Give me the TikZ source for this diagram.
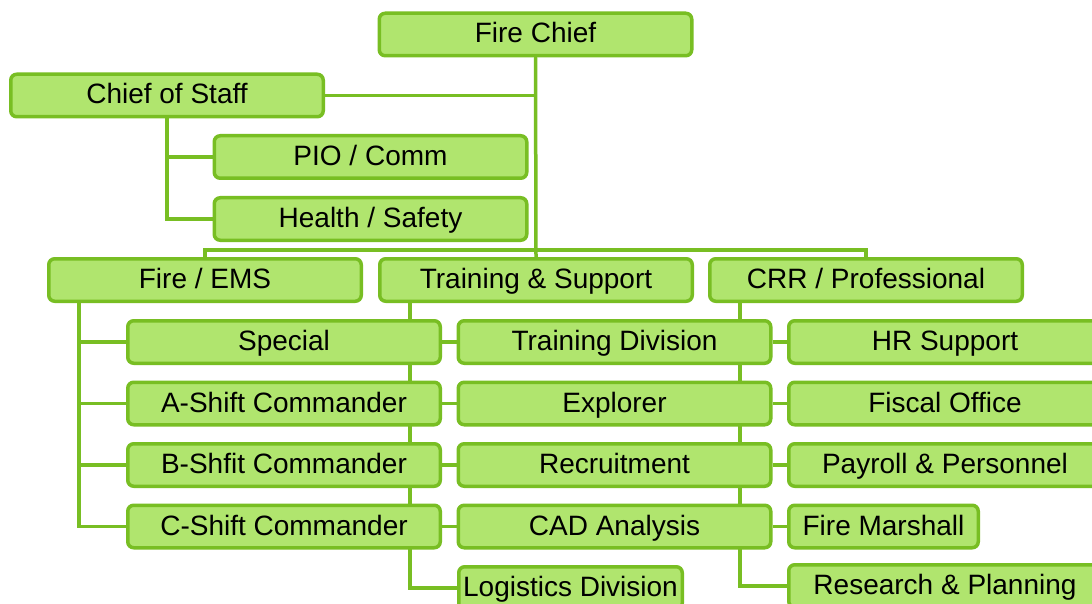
\documentclass[tikz,border=0pt]{standalone}
\usepackage{fontspec}
\setmainfont{Liberation Sans}
\usetikzlibrary{backgrounds}
\definecolor{gline}{RGB}{120,190,35}
\definecolor{gfill}{RGB}{176,229,110}
\begin{document}
\begin{tikzpicture}[x=1pt,y=-1pt,
  box/.style={draw=gline,fill=gfill,line width=3.5pt,rounded corners=6pt,
    minimum width=312.5pt,minimum height=42.5pt,inner sep=0pt,
    text height=20pt,text depth=3pt,
    font=\fontsize{28}{34}\selectfont,anchor=center},
  conn/.style={draw=gline,line width=3.5pt}]
\clip (0,0) rectangle (1092,604);
% top
\node[box] (fc) at (535.5,34.5) {Fire Chief};
\node[box] (cos) at (167,95.5) {Chief of Staff};
\node[box] (pio) at (370.5,157) {PIO / Comm};
\node[box] (hs) at (370.5,219) {Health / Safety};
% divisions
\node[box] (fe) at (205,280) {Fire / EMS};
\node[box] (ts) at (536,280) {Training \& Support};
\node[box] (cr) at (866,280) {CRR / Professional};
% left column
\node[box] (sp) at (284,342) {Special};
\node[box] (as) at (284,403.5) {A-Shift Commander};
\node[box] (bs) at (284,465) {B-Shfit Commander};
\node[box] (cs) at (284,526.5) {C-Shift Commander};
% middle column
\node[box] (td) at (614.5,342) {Training Division};
\node[box] (ex) at (614.5,403.5) {Explorer};
\node[box] (rc) at (614.5,465) {Recruitment};
\node[box] (ca) at (614.5,526.5) {CAD Analysis};
\node[box,minimum width=223.5pt] (lg) at (570.5,588) {Logistics Division};
% right column
\node[box] (hr) at (945,342) {HR Support};
\node[box] (fo) at (945,403.5) {Fiscal Office};
\node[box] (pp) at (945,465) {Payroll \& Personnel};
\node[box,minimum width=189.5pt] (fm) at (883.5,526.5) {Fire Marshall};
\node[box] (rp) at (945,586) {Research \& Planning};
\coordinate (bar) at (536,250);
\begin{pgfonlayer}{background}
\fill[white] (0,0) rectangle (1092,604);
\draw[conn] (fc.south) -- (ts.north);
\draw[conn] (cos.east) -| (fc.south);
\draw[conn] (fe.north) |- (bar) -| (cr.north);
\draw[conn] (cos.south) |- (pio.west);
\draw[conn] (cos.south) |- (hs.west);
% fire/ems column
\draw[conn] ([xshift=32pt]fe.south west) |- (cs.west);
\draw[conn] ([xshift=32pt]fe.south west) |- (sp.west);
\draw[conn] ([xshift=32pt]fe.south west) |- (as.west);
\draw[conn] ([xshift=32pt]fe.south west) |- (bs.west);
% training column
\draw[conn] ([xshift=32pt]ts.south west) |- (lg.west);
\draw[conn] (sp.east) -- (td.west);
\draw[conn] (as.east) -- (ex.west);
\draw[conn] (bs.east) -- (rc.west);
\draw[conn] (cs.east) -- (ca.west);
% crr column
\draw[conn] ([xshift=32pt]cr.south west) |- (rp.west);
\draw[conn] (td.east) -- (hr.west);
\draw[conn] (ex.east) -- (fo.west);
\draw[conn] (rc.east) -- (pp.west);
\draw[conn] (ca.east) -- (fm.west);
\end{pgfonlayer}
\end{tikzpicture}
\end{document}
